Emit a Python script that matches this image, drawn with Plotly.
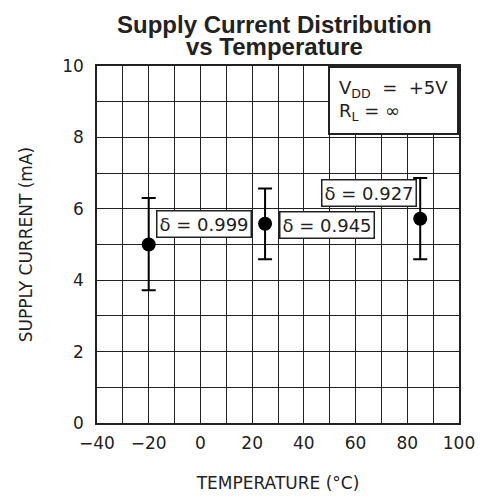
import plotly.graph_objects as go

# temperature (degC) and supply current (mA)
temps = [-20, 25, 85]
current = [5.0, 5.58, 5.72]
err_hi = [6.3, 6.57, 6.86]
err_lo = [3.72, 4.59, 4.59]

delta_labels = ["δ = 0.999", "δ = 0.945", "δ = 0.927"]
label_x = [1.2, 48.8, 65.2]
label_y = [5.57, 5.55, 6.44]

x_ticks = [-40, -20, 0, 20, 40, 60, 80, 100]
y_ticks = [0, 2, 4, 6, 8, 10]

FONT = "DejaVu Sans, Liberation Sans"
tick_font = dict(family=FONT, size=17, color="#222")
label_font = dict(family=FONT, size=17, color="#222")

fig = go.Figure()

fig.add_trace(go.Scatter(
    x=temps,
    y=current,
    mode="markers",
    marker=dict(color="black", size=14),
    error_y=dict(
        type="data",
        symmetric=False,
        array=[h - c for h, c in zip(err_hi, current)],
        arrayminus=[c - l for c, l in zip(current, err_lo)],
        color="black",
        thickness=2,
        width=7,
    ),
    showlegend=False,
    hoverinfo="skip",
))

for txt, lx, ly in zip(delta_labels, label_x, label_y):
    fig.add_annotation(
        x=lx, y=ly, xref="x", yref="y",
        text=txt, showarrow=False,
        font=dict(family=FONT, size=18, color="#222"),
        bgcolor="white", bordercolor="#222", borderwidth=1.5, borderpad=2,
    )

fig.add_annotation(
    x=1, y=1, xref="paper", yref="paper",
    xanchor="right", yanchor="top",
    text="V<sub>DD</sub>  =  +5V<br>R<sub>L</sub> = ∞",
    align="left", showarrow=False,
    font=dict(family=FONT, size=18, color="#222"),
    bgcolor="white", bordercolor="#222", borderwidth=2, borderpad=9,
)

# two-line title, tight leading
fig.add_annotation(
    x=0.49, y=1.115, xref="paper", yref="paper",
    xanchor="center", yanchor="middle",
    text="<b>Supply Current Distribution</b>", showarrow=False,
    font=dict(family="Liberation Sans, Arial", size=24, color="#222"),
)
fig.add_annotation(
    x=0.49, y=1.055, xref="paper", yref="paper",
    xanchor="center", yanchor="middle",
    text="<b>vs Temperature</b>", showarrow=False,
    font=dict(family="Liberation Sans, Arial", size=24, color="#222"),
)

axis_common = dict(
    showline=True, linecolor="#222", linewidth=1.5, mirror=True,
    showgrid=True, gridcolor="#222", gridwidth=1.3,
    zeroline=False, ticks="", tickfont=tick_font,
)

fig.update_xaxes(
    range=[-40, 100], tickvals=x_ticks, ticklabelstandoff=4,
    minor=dict(dtick=10, showgrid=True, gridcolor="#222", gridwidth=1.3),
    title=dict(text="TEMPERATURE (°C)", font=label_font, standoff=25),
    **axis_common,
)
fig.update_yaxes(
    range=[0, 10], tickvals=y_ticks, ticklabelstandoff=8,
    minor=dict(dtick=1, showgrid=True, gridcolor="#222", gridwidth=1.3),
    title=dict(text="SUPPLY CURRENT (mA)", font=label_font, standoff=25),
    **axis_common,
)

fig.update_layout(
    width=487, height=502,
    margin=dict(l=97, r=23, t=66, b=79),
    paper_bgcolor="white", plot_bgcolor="white",
)

# drop the default page margin so the figure sits at the window origin
fig.write_html(
    "out.html",
    config={"displayModeBar": False},
    post_script="document.body.style.margin='0';document.body.style.overflow='hidden';",
)
